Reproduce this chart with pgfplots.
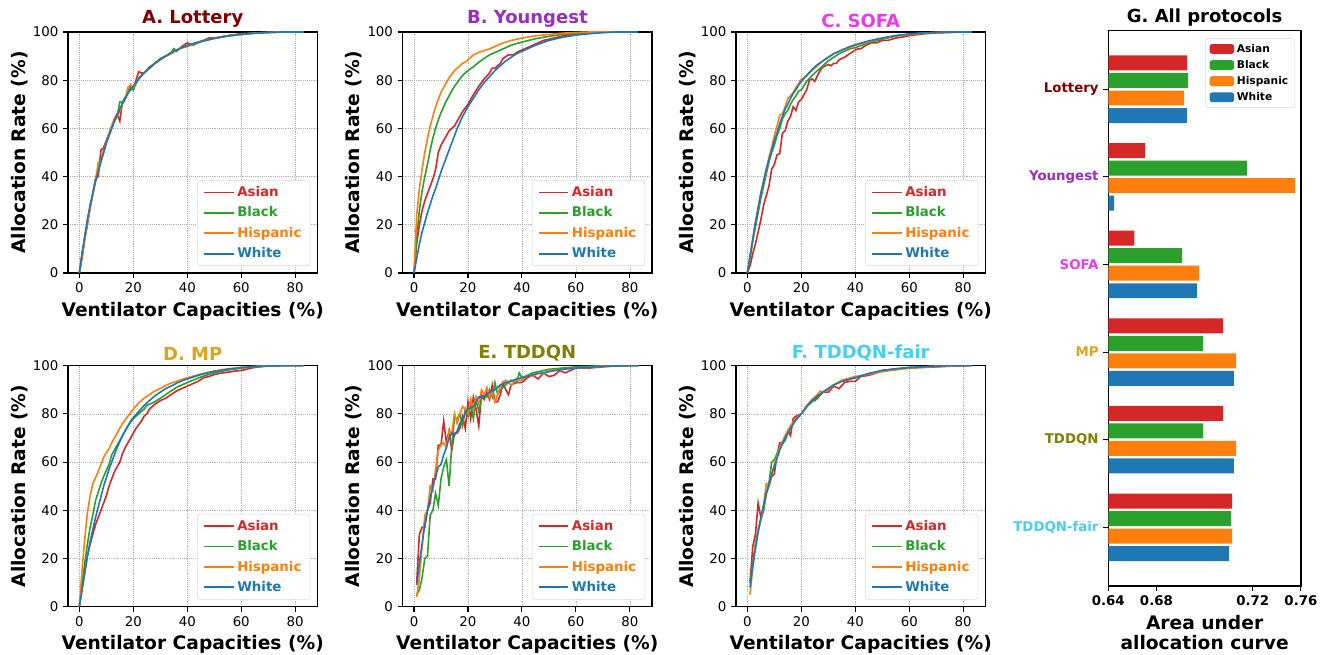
\documentclass[border=0pt]{standalone}
\usepackage{pgfplots}
\pgfplotsset{compat=1.18}
\usepackage{fontspec}
\setmainfont{DejaVu Sans}
\definecolor{cRed}{HTML}{D62728}
\definecolor{cGreen}{HTML}{2CA02C}
\definecolor{cOrange}{HTML}{FF7F0E}
\definecolor{cBlue}{HTML}{1F77B4}
\definecolor{tA}{HTML}{800000}
\definecolor{tB}{HTML}{9B2CC0}
\definecolor{tC}{HTML}{E83CE8}
\definecolor{tD}{HTML}{DAA520}
\definecolor{tE}{HTML}{808000}
\definecolor{tF}{HTML}{45CFF0}
\pgfplotsset{
  panel/.style={
    scale only axis, width=187pt, height=180.75pt,
    xmin=-4.2, xmax=88.2, ymin=0, ymax=100,
    xtick={0,20,40,60,80}, ytick={0,20,40,60,80,100},
    tick pos=left, tick align=outside, major tick length=3.75pt,
    tick style={black, line width=0.8pt},
    axis line style={line width=1.1pt},
    grid=major, grid style={densely dotted, gray!60, line width=0.5pt},
    tick label style={font=\fontsize{10}{12}\selectfont},
    /pgf/number format/assume math mode=true,
    xlabel={Ventilator Capacities (\%)},
    ylabel={Allocation Rate (\%)},
    label style={font=\fontsize{14}{16}\selectfont\bfseries},
    xlabel style={yshift=0pt},
    ylabel style={yshift=-3pt},
    title style={font=\fontsize{13.5}{15}\selectfont\bfseries, yshift=-6pt},
    legend style={at={(0.972,0.029)}, anchor=south east, draw=gray!30, rounded corners=2pt,
      font=\fontsize{10}{12}\selectfont\bfseries, row sep=2.2pt, inner xsep=4.5pt, inner ysep=2.5pt},
    legend cell align=left,
    legend image code/.code={\draw[#1, line width=1.35pt] (0pt,0pt) -- (22pt,0pt);},
    every axis plot/.append style={line width=1.2pt, no markers},
  },
  gbar/.style={xbar, bar width=0.171, bar shift=0pt, draw=none},
}
\begin{document}
\begin{tikzpicture}
\path[use as bounding box] (0,0) rectangle (996.75pt,490.5pt);
% ---------------- A
\begin{axis}[panel, at={(51pt,285.75pt)}, anchor=south west, title={\textcolor{tA}{A. Lottery}}]
\addplot[cRed] coordinates {(0,0)(1,6)(2,14)(3,20)(4,27)(5,33)(6,39)(7,40)(8,51)(9,52)(10,55)(11,58)(12,61)(13,64)(14,66)(15,63)(16,71)(17,72)(18,75)(19,78)(20,76)(21,80)(22,83.5)(23,83)(24,83)(26,85.5)(28,87)(30,89)(32,90)(34,91)(35,93)(36,92)(38,94)(40,95.5)(42,94.5)(45,96)(48,97.5)(50,97.5)(55,98.5)(60,99.3)(65,99.6)(70,99.8)(75,100)(83,100)};
\addlegendentry{\textcolor{cRed}{Asian}}
\addplot[cGreen] coordinates {(0,0)(1,8)(2,15)(3,22)(4,28)(5,33)(6,39)(7,43)(8,47)(9,50)(10,54)(11,57)(12,60)(13,63)(14,65)(15,71)(16,71)(17,73)(18,75)(19,77)(20,76)(22,81)(24,83)(26,85)(28,87)(30,89)(32,90)(34,91.5)(35,93)(36,92.5)(38,93.5)(40,94.5)(45,96.2)(50,97.5)(55,98.4)(60,99)(65,99.5)(70,99.8)(75,100)(83,100)};
\addlegendentry{\textcolor{cGreen}{Black}}
\addplot[cOrange] coordinates {(0,0)(1,7)(2,14)(3,21)(4,27)(5,33)(6,38)(7,46)(8,46)(9,51)(10,54)(11,58)(12,61)(13,64)(14,65)(15,67)(16,70)(17,72)(18,77)(19,78)(20,77)(22,80.5)(24,83)(26,85)(28,87)(30,88.5)(32,90)(34,91)(36,92.5)(38,93.3)(40,94)(45,96)(50,97.3)(55,98.3)(60,99)(65,99.5)(70,99.8)(75,100)(83,100)};
\addlegendentry{\textcolor{cOrange}{Hispanic}}
\addplot[cBlue] coordinates {(0,0)(1,8)(2,15)(3,22)(4,28)(5,33)(6,38)(7,42)(8,46)(9,50)(10,54)(11,57)(12,60)(13,63)(14,65.5)(15,68)(16,70.5)(17,72.5)(18,74.5)(19,76)(20,77.5)(22,80.5)(24,83)(26,85)(28,87)(30,88.5)(32,90)(34,91.3)(36,92.5)(38,93.5)(40,94.3)(45,96)(50,97.3)(55,98.3)(60,99)(65,99.5)(70,99.8)(75,100)(83,100)};
\addlegendentry{\textcolor{cBlue}{White}}
\end{axis}
% ---------------- B
\begin{axis}[panel, at={(302pt,285.75pt)}, anchor=south west, title={\textcolor{tB}{B. Youngest}}]
\addplot[cRed] coordinates {(0,0)(1,12)(2,20)(3,26)(4,30)(5,33)(6,36)(7,39)(8,43)(9,50)(10,53)(11,55)(12,57)(13,59)(14,60)(15,61)(16,63)(17,65)(18,67)(19,68.5)(20,70)(22,74)(24,77.5)(26,80.5)(28,83)(29,85)(30,85)(32,87)(33,89)(35,90.5)(37,90.5)(38,91.5)(40,92.5)(42,93.5)(45,95)(48,96.5)(50,97)(55,98.3)(60,99.2)(65,99.7)(70,100)(83,100)};
\addlegendentry{\textcolor{cRed}{Asian}}
\addplot[cGreen] coordinates {(0,0)(1,15)(2,26)(3,34)(4,40)(5,45)(6,51)(7,56)(8,60)(9,63.5)(10,66.5)(11,69)(12,71.5)(13,73.5)(14,75.5)(15,77.5)(16,79)(17,80.5)(18,82)(19,83)(20,84)(22,85.5)(24,87.5)(26,89)(28,90.5)(30,91.5)(32,92.5)(34,93.5)(36,94.5)(38,95.2)(40,95.8)(45,97.2)(50,98.2)(55,99)(60,99.5)(65,99.8)(70,100)(83,100)};
\addlegendentry{\textcolor{cGreen}{Black}}
\addplot[cOrange] coordinates {(0,0)(1,24)(2,35)(3,43)(4,50)(5,56)(6,61)(7,65)(8,69)(9,72)(10,75)(11,77)(12,79)(13,81)(14,82.5)(15,84)(16,85)(17,86)(18,87)(19,87.5)(20,88.5)(22,90.5)(24,91.5)(26,92.3)(28,93)(30,94)(32,95)(34,95.8)(36,96.5)(38,97)(40,97.5)(45,98.4)(50,99)(55,99.5)(60,99.8)(65,100)(83,100)};
\addlegendentry{\textcolor{cOrange}{Hispanic}}
\addplot[cBlue] coordinates {(0,0)(1,6)(2,12)(3,17)(4,21)(5,25)(6,28.5)(7,32)(8,35)(9,38.5)(10,42)(11,45)(12,48)(13,51)(14,54)(15,57)(16,60)(17,62.5)(18,65)(19,67)(20,69)(22,72.5)(24,76)(26,79)(28,81.5)(30,84)(32,86)(34,88)(36,89.5)(38,91)(40,92)(45,94.5)(50,96.5)(55,97.8)(60,98.7)(65,99.3)(70,99.7)(75,100)(83,100)};
\addlegendentry{\textcolor{cBlue}{White}}
\end{axis}
% ---------------- C
\begin{axis}[panel, at={(552pt,285.75pt)}, anchor=south west, title={\textcolor{tC}{C. SOFA}}]
\addplot[cRed] coordinates {(0,0)(1,3)(2,8)(3,12)(4,17)(5,22)(6,28)(7,32)(8,36)(9,43)(10,45)(11,49)(12,49.5)(13,58)(14,59)(15,63)(16,65)(17,69)(18,67.5)(19,71)(20,72)(21,74)(22,76)(23,80)(24,80.5)(25,79.5)(26,82)(27,84)(28,85.5)(29,86)(30,86.5)(31,86)(32,87)(33,87)(34,88.5)(36,89.5)(38,91)(40,92.5)(41,93)(42,93)(44,94.5)(46,95.5)(48,95.5)(50,96.5)(52,96.5)(55,97.5)(58,98)(60,98.5)(65,99.2)(70,99.6)(75,99.8)(80,100)(83,100)};
\addlegendentry{\textcolor{cRed}{Asian}}
\addplot[cGreen] coordinates {(0,0)(1,6)(2,13)(3,19)(4,25)(5,31)(6,36)(7,41)(8,46)(9,50)(10,53)(11,57)(12,60)(13,64)(14,66)(15,67.5)(16,70)(17,72)(18,73.5)(19,75.5)(20,76)(22,79.5)(24,82)(26,84)(28,86)(30,88)(32,89.5)(34,91)(36,92)(38,93)(40,93.5)(45,95.5)(50,97)(55,98.3)(60,99)(65,99.5)(70,99.8)(75,100)(83,100)};
\addlegendentry{\textcolor{cGreen}{Black}}
\addplot[cOrange] coordinates {(0,0)(1,7)(2,14)(3,21)(4,27)(5,33)(6,38)(7,43)(8,48)(9,52)(10,57)(11,61)(12,65.5)(13,66)(14,69)(15,72.5)(16,73.5)(17,75)(18,77)(19,78.5)(20,80.5)(21,81)(22,82)(24,84)(26,86)(28,88)(30,89.5)(32,91)(34,92)(36,93)(38,93.5)(40,94.5)(45,96)(50,97.5)(55,98.5)(60,99)(65,99.5)(70,99.8)(75,100)(83,100)};
\addlegendentry{\textcolor{cOrange}{Hispanic}}
\addplot[cBlue] coordinates {(0,0)(1,7)(2,14)(3,21)(4,27)(5,33)(6,38)(7,43)(8,47)(9,51)(10,55)(11,58)(12,62)(13,65)(14,68)(15,70)(16,72.5)(17,74.5)(18,76)(19,78)(20,79.5)(22,82)(24,84.5)(26,86.5)(28,88)(30,89.5)(32,91)(34,92)(36,93)(38,94)(40,94.7)(45,96.3)(50,97.5)(55,98.5)(60,99.2)(65,99.6)(70,99.8)(75,100)(83,100)};
\addlegendentry{\textcolor{cBlue}{White}}
\end{axis}
% ---------------- D
\begin{axis}[panel, at={(51pt,35.5pt)}, anchor=south west, title={\textcolor{tD}{D. MP}}]
\addplot[cRed] coordinates {(0,0)(1,7)(2,14)(3,21)(4,26)(5,30)(6,34)(7,37)(8,40)(9,43)(10,46)(11,50)(12,53)(13,56)(14,58)(15,60)(16,63.5)(17,66)(18,68)(19,70)(20,72)(21,74)(22,75.5)(23,77)(24,79)(25,80)(26,82)(28,84)(30,85.5)(32,86.5)(34,88)(36,89.5)(38,90.5)(40,91.5)(42,92.5)(44,93.5)(46,95)(48,95.5)(50,96.3)(52,96.8)(55,97.3)(58,97.8)(60,98)(62,98.5)(65,99.3)(70,100)(83,100)};
\addlegendentry{\textcolor{cRed}{Asian}}
\addplot[cGreen] coordinates {(0,0)(1,9)(2,18)(3,26)(4,33)(5,38)(6,44)(7,47.5)(8,51)(9,54)(10,56.5)(11,59)(12,63)(13,65)(14,67)(15,69)(16,71)(17,73)(18,75)(19,76.5)(20,78)(22,80)(24,82)(25,83.5)(26,84)(28,85)(30,86.5)(32,88)(34,89.5)(36,91)(38,92)(40,93)(45,95.3)(50,97)(55,98.2)(60,99)(65,99.5)(70,99.8)(75,100)(83,100)};
\addlegendentry{\textcolor{cGreen}{Black}}
\addplot[cOrange] coordinates {(0,0)(1,15)(2,28)(3,39)(4,46)(5,51)(6,53.5)(7,56)(8,59)(9,62)(10,64)(11,65.5)(12,68)(13,70)(14,72)(15,74)(16,76)(17,77.5)(18,79)(19,80.5)(20,82)(22,84.5)(24,86.5)(26,88)(28,89.5)(30,90.5)(32,91.8)(34,92.8)(36,93.5)(38,94.3)(40,95)(45,96.5)(50,97.8)(55,98.7)(60,99.3)(65,99.7)(70,100)(83,100)};
\addlegendentry{\textcolor{cOrange}{Hispanic}}
\addplot[cBlue] coordinates {(0,0)(1,7)(2,14)(3,21)(4,27)(5,32)(6,37)(7,41.5)(8,45.5)(9,50)(10,53.5)(11,57)(12,60)(13,63)(14,66)(15,68.5)(16,71)(17,73)(18,75)(19,77)(20,78.5)(22,81)(24,83.5)(26,85.5)(28,87.5)(30,89)(32,90.5)(34,91.5)(36,92.7)(38,93.7)(40,94.5)(45,96.3)(50,97.6)(55,98.5)(60,99.2)(65,99.6)(70,99.9)(75,100)(83,100)};
\addlegendentry{\textcolor{cBlue}{White}}
\end{axis}
% ---------------- E
\begin{axis}[panel, at={(302pt,35.5pt)}, anchor=south west, title={\textcolor{tE}{E. TDDQN}}]
\addplot[cRed] coordinates {(1,10)(2,30)(3,33)(4,33)(5,40)(6,43)(7,53)(8,53)(9,67)(10,67)(11,77)(12,68)(13,73)(14,65)(15,72)(16,72)(17,74)(18,79)(19,74)(20,85)(21,78)(22,87)(23,82)(24,75)(25,88)(26,86)(27,89)(28,86)(29,92)(30,85)(31,85)(32,88)(33,93)(34,90)(35,88)(36,92)(38,93)(40,93)(42,95)(44,96)(46,94.5)(48,97)(50,95.5)(52,96)(54,98)(56,97)(58,98)(60,99)(65,99)(70,99.5)(75,100)(83,100)};
\addlegendentry{\textcolor{cRed}{Asian}}
\addplot[cGreen] coordinates {(1,5)(2,7)(3,12)(4,20)(5,21)(6,38)(7,40)(8,47)(9,42)(10,53)(11,58)(12,61)(13,50)(14,67)(15,78)(16,78)(17,80)(18,75)(19,82)(20,79)(21,84)(22,78)(23,86)(24,81)(25,86)(26,88)(27,87)(28,90)(29,87)(30,93)(31,88)(32,90)(34,92)(36,94)(38,93)(39,97)(40,95)(42,96)(44,97)(46,97.5)(48,98)(50,98.5)(55,99)(60,99.5)(70,100)(83,100)};
\addlegendentry{\textcolor{cGreen}{Black}}
\addplot[cOrange] coordinates {(1,4)(2,12)(3,25)(4,38)(5,40)(6,50)(7,48)(8,57)(9,65)(10,67)(11,68)(12,66)(13,73)(14,72)(15,80)(16,76)(17,80)(18,83)(19,82)(20,80)(21,86)(22,82)(23,87)(24,84)(25,90)(26,88)(27,91)(28,87)(29,89)(30,85)(31,88)(32,92)(34,94)(36,92)(38,94)(40,94)(42,96)(44,95.5)(46,97)(48,96.5)(50,98)(55,98.5)(60,99)(65,99.3)(70,99.7)(80,100)(83,100)};
\addlegendentry{\textcolor{cOrange}{Hispanic}}
\addplot[cBlue] coordinates {(1,9)(2,18)(3,26)(4,34)(5,40)(6,45)(7,50)(8,54)(9,58)(10,59)(11,63)(12,66)(13,70)(14,72)(15,71)(16,73)(17,76)(18,78)(19,80)(20,82)(22,83)(24,87)(26,87)(28,89)(30,90)(32,92)(34,93)(36,93.5)(38,94.5)(40,95)(45,96.5)(50,97.5)(55,98.5)(60,99)(70,99.7)(80,100)(83,100)};
\addlegendentry{\textcolor{cBlue}{White}}
\end{axis}
% ---------------- F
\begin{axis}[panel, at={(552pt,35.5pt)}, anchor=south west, title={\textcolor{tF}{F. TDDQN-fair}}]
\addplot[cRed] coordinates {(1,10)(2,25)(3,30)(4,43)(5,37)(6,40)(7,47)(8,50)(9,54)(10,55)(11,63)(12,68)(13,68)(14,70)(15,73)(16,71)(17,78)(18,79)(20,80)(22,83)(24,86)(25,85.5)(26,86.5)(28,89)(30,89)(32,91.5)(34,90.5)(36,93)(38,93.5)(40,93.5)(42,95.5)(45,96)(48,97)(50,98)(55,98.5)(60,99)(70,99.5)(80,100)(83,100)};
\addlegendentry{\textcolor{cRed}{Asian}}
\addplot[cGreen] coordinates {(1,10)(2,18)(3,26)(4,32)(5,36)(6,40)(7,47)(8,51)(9,60)(10,61)(12,66)(14,69)(15,72)(16,75)(18,77.5)(20,80)(22,83)(24,85)(26,87)(28,89)(30,90.5)(32,92)(35,93.5)(40,95)(45,96.5)(50,98)(60,99.3)(70,99.8)(80,100)(83,100)};
\addlegendentry{\textcolor{cGreen}{Black}}
\addplot[cOrange] coordinates {(1,5)(2,16)(3,25)(4,31)(5,36)(6,42)(7,51)(8,51)(9,55)(10,59)(12,66)(14,71)(16,75)(18,78)(20,80)(22,83.5)(24,86)(26,88)(27,89.5)(28,89)(30,90)(32,92)(35,94)(40,95.5)(45,96.5)(50,97.5)(60,99)(70,99.7)(80,100)(83,100)};
\addlegendentry{\textcolor{cOrange}{Hispanic}}
\addplot[cBlue] coordinates {(1,8)(2,17)(3,24)(4,31)(5,37)(6,42)(7,47)(8,51)(9,55)(10,58)(12,65)(14,70)(16,74)(18,77.5)(20,80)(22,83)(24,85.5)(26,87.5)(28,89)(30,90.5)(32,92)(35,93.5)(40,95)(45,96.8)(50,98)(55,98.7)(60,99.2)(65,99.5)(70,99.8)(75,100)(83,100)};
\addlegendentry{\textcolor{cBlue}{White}}
\end{axis}
% ---------------- G
\begin{axis}[at={(831.2pt,51pt)}, anchor=south west, scale only axis, width=144.5pt, height=416.6pt,
  xmin=0.64, xmax=0.76, ymin=-0.67, ymax=5.67, y dir=reverse,
  xtick={0.64,0.67,0.73,0.76}, xticklabels={0.64,0.68,0.72,0.76},
  ytick={0,1,2,3,4,5},
  yticklabels={\textcolor{tA}{Lottery},\textcolor{tB}{Youngest},\textcolor{tC}{SOFA},\textcolor{tD}{MP},\textcolor{tE}{TDDQN},\textcolor{tF}{TDDQN-fair}},
  tick pos=left, tick align=outside, major tick length=3.75pt,
  tick style={black, line width=0.8pt},
  axis line style={line width=1.1pt},
  tick label style={font=\fontsize{10}{12}\selectfont\bfseries},
  /pgf/number format/assume math mode=true,
  title={G. All protocols},
  title style={font=\fontsize{13.5}{15}\selectfont\bfseries, yshift=-6.5pt},
  xlabel={Area under\\allocation curve},
  xlabel style={font=\fontsize{14}{15.5}\selectfont\bfseries, align=center, yshift=0pt},
  legend style={at={(0.97,0.986)}, anchor=north east, draw=gray!30, rounded corners=2pt,
    font=\fontsize{8}{9.5}\selectfont\bfseries, row sep=0.5pt, inner ysep=2pt},
  legend cell align=left,
  legend image code/.code={\fill[#1] (0pt,-3.7pt) rectangle (18.5pt,3.7pt);},
]
\addplot[gbar, fill=cRed] coordinates {(0.6891,-0.3)(0.6630,0.7)(0.6562,1.7)(0.7115,2.7)(0.7115,3.7)(0.7171,4.7)};
\addlegendentry{Asian}
\addplot[gbar, fill=cGreen] coordinates {(0.6897,-0.1)(0.7264,0.9)(0.6860,1.9)(0.6991,2.9)(0.6991,3.9)(0.7165,4.9)};
\addlegendentry{Black}
\addplot[gbar, fill=cOrange] coordinates {(0.6873,0.1)(0.7563,1.1)(0.6966,2.1)(0.7196,3.1)(0.7196,4.1)(0.7171,5.1)};
\addlegendentry{Hispanic}
\addplot[gbar, fill=cBlue] coordinates {(0.6891,0.3)(0.6437,1.3)(0.6953,2.3)(0.7183,3.3)(0.7183,4.3)(0.7152,5.3)};
\addlegendentry{White}
\end{axis}
\end{tikzpicture}
\end{document}
